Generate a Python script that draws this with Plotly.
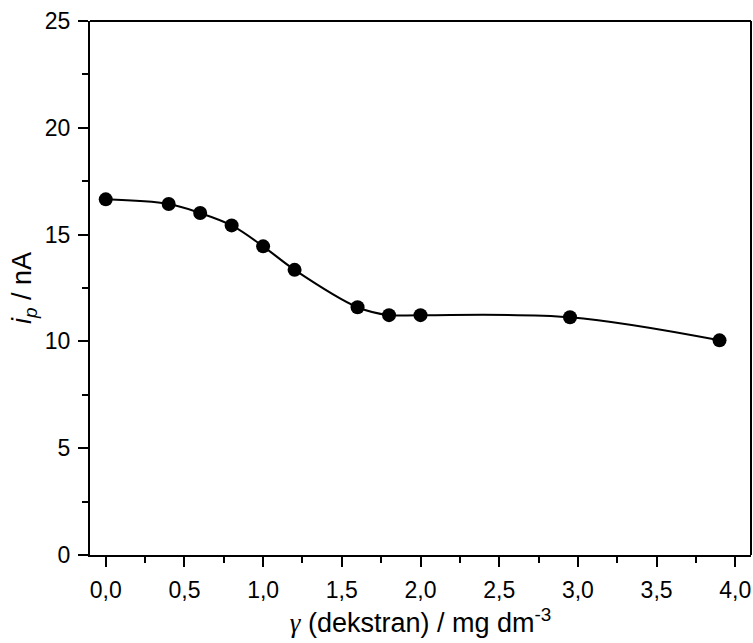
import plotly.graph_objects as go

conc = [0.0, 0.4, 0.6, 0.8, 1.0, 1.2, 1.6, 1.8, 2.0, 2.95, 3.9]
ip = [16.65, 16.43, 16.01, 15.43, 14.45, 13.35, 11.6, 11.23, 11.23, 11.13, 10.05]

xtick_vals = [0, 0.5, 1.0, 1.5, 2.0, 2.5, 3.0, 3.5, 4.0]
xtick_text = ["0,0", "0,5", "1,0", "1,5", "2,0", "2,5", "3,0", "3,5", "4,0"]
ytick_vals = [0, 5, 10, 15, 20, 25]

FONT = "Liberation Sans, Arial, sans-serif"

fig = go.Figure()
fig.add_trace(go.Scatter(x=conc, y=ip, mode="lines",
                         line=dict(color="black", width=2, shape="spline", smoothing=1.0),
                         hoverinfo="skip", showlegend=False))
fig.add_trace(go.Scatter(x=conc, y=ip, mode="markers",
                         marker=dict(color="black", size=14), showlegend=False))

axis_common = dict(showgrid=False, zeroline=False, showline=True, linecolor="black",
                   linewidth=2, ticks="outside", tickcolor="black", tickwidth=2,
                   ticklen=10, automargin=False, ticklabelstandoff=3,
                   tickfont=dict(family=FONT, size=23, color="black"))

fig.update_xaxes(**axis_common, range=[-0.1, 4.1], tickvals=xtick_vals, ticktext=xtick_text,
                 minor=dict(ticks="outside", ticklen=6, tickwidth=2, tickcolor="black", dtick=0.25, tick0=0.25),
                 title=dict(text="<span style=\"font-family:'Liberation Serif', 'Times New Roman', serif\"><i>γ</i></span> (dekstran) / mg dm<sup>-3</sup>",
                            font=dict(family=FONT, size=27, color="black"), standoff=12))
fig.update_yaxes(**axis_common, range=[0, 25], tickvals=ytick_vals,
                 minor=dict(ticks="outside", ticklen=6, tickwidth=2, tickcolor="black", dtick=2.5, tick0=2.5))

fig.add_annotation(text="<i>i</i><sub><i>p</i></sub> / nA", xref="paper", yref="paper",
                   x=0, y=0.5, xanchor="center", yanchor="middle", xshift=-66, textangle=-90,
                   showarrow=False, font=dict(family=FONT, size=27, color="black"))

# top/right box lines
fig.add_shape(type="line", xref="paper", yref="paper", x0=0, x1=1, y0=1, y1=1,
              line=dict(color="black", width=2))
fig.add_shape(type="line", xref="paper", yref="paper", x0=1, x1=1, y0=0, y1=1,
              line=dict(color="black", width=2))

fig.update_layout(width=753, height=643, margin=dict(l=90, r=2, t=21, b=88),
                  plot_bgcolor="white", paper_bgcolor="white")

fig.write_html("out.html", config={"displayModeBar": False},
               post_script="document.body.style.margin='0';document.body.style.padding='0';")
